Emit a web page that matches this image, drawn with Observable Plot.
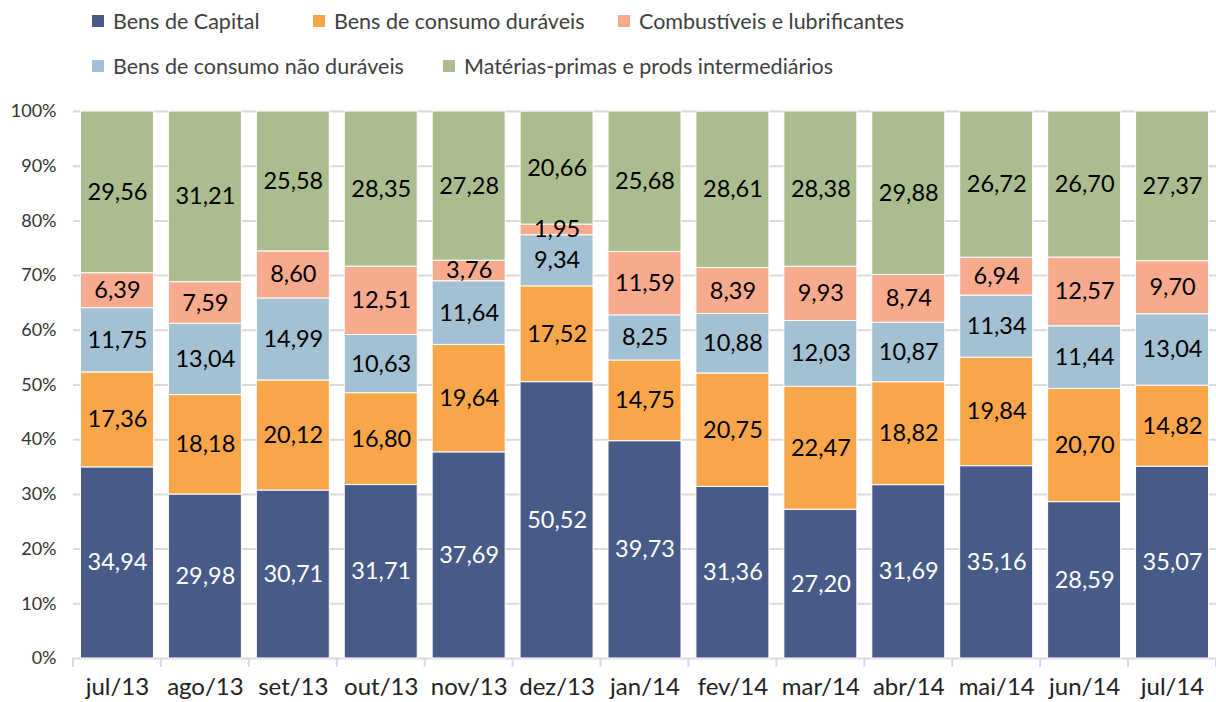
<!DOCTYPE html>
<html>
<head>
<meta charset="utf-8">
<script src="https://cdn.jsdelivr.net/npm/d3@7"></script>
<script src="https://cdn.jsdelivr.net/npm/@observablehq/plot@0.6"></script>
<style>
  body { margin: 0; background: #fff; font-family: Lato, "Open Sans", sans-serif; }
  #wrap { position: relative; width: 1216px; height: 702px; }
  #legend { position: relative; height: 92px; }
  .item { position: absolute; display: flex; align-items: center; font-size: 21.5px; color: #404040; white-space: nowrap; }
  .sw { width: 12px; height: 12px; margin-right: 9px; }
</style>
</head>
<body>
<div id="wrap">
  <div id="legend"></div>
  <div id="chart"></div>
</div>
<script>
const months = ["jul/13","ago/13","set/13","out/13","nov/13","dez/13","jan/14","fev/14","mar/14","abr/14","mai/14","jun/14","jul/14"];
const seriesNames = ["Bens de Capital","Bens de consumo duráveis","Bens de consumo não duráveis","Combustíveis e lubrificantes","Matérias-primas e prods intermediários"];
const seriesColors = ["#485a87","#f9a64a","#a3c1d3","#f8aa8e","#abbd8f"];
const capital  = [34.94,29.98,30.71,31.71,37.69,50.52,39.73,31.36,27.20,31.69,35.16,28.59,35.07];
const duraveis = [17.36,18.18,20.12,16.80,19.64,17.52,14.75,20.75,22.47,18.82,19.84,20.70,14.82];
const naoDuraveis = [11.75,13.04,14.99,10.63,11.64,9.34,8.25,10.88,12.03,10.87,11.34,11.44,13.04];
const combustiveis = [6.39,7.59,8.60,12.51,3.76,1.95,11.59,8.39,9.93,8.74,6.94,12.57,9.70];
const materias = [29.56,31.21,25.58,28.35,27.28,20.66,25.68,28.61,28.38,29.88,26.72,26.70,27.37];
const yTicks = [0,10,20,30,40,50,60,70,80,90,100];

const seriesValues = [capital, duraveis, naoDuraveis, combustiveis, materias];
const data = [];
seriesNames.forEach((s, i) => months.forEach((m, j) => data.push({month: m, series: s, value: seriesValues[i][j]})));

// legend
const legendPos = [[92,22],[313,22],[618,22],[92,67],[443,67]];
const legendOrder = [0,1,3,2,4];
const legend = document.getElementById("legend");
legendOrder.forEach((si, k) => {
  const it = document.createElement("div");
  it.className = "item";
  it.style.left = legendPos[k][0] + "px";
  it.style.top = (legendPos[k][1] - 14) + "px";
  it.innerHTML = `<span class="sw" style="background:${seriesColors[si]}"></span><span>${seriesNames[si]}</span>`;
  legend.appendChild(it);
});

const fmt = v => v.toFixed(2).replace(".", ",");
const padInner = 0.17, padOuter = 0.085;

const chart = Plot.plot({
  width: 1216,
  height: 610,
  marginTop: 19,
  marginBottom: 44,
  marginLeft: 73,
  marginRight: 0,
  style: {fontFamily: "Lato, 'Open Sans', sans-serif", background: "#fff"},
  x: {domain: months, paddingInner: padInner, paddingOuter: padOuter, round: false, label: null},
  y: {domain: [0, 100], label: null},
  color: {domain: seriesNames, range: seriesColors},
  marks: [
    Plot.ruleY(yTicks, {stroke: "#d9d9d9", strokeWidth: 2}),
    Plot.axisY({ticks: yTicks, tickFormat: d => d + "%", tickSize: 0, tickPadding: 17, fontSize: 18, color: "#333", label: null}),
    Plot.axisX({tickSize: 0, tickPadding: 19, fontSize: 24, color: "#222", label: null}),
    // category boundary ticks on the x axis
    (index, scales) => {
      const g = d3.create("svg:g");
      const x = scales.x;
      const n = months.length;
      const step = (x(months[n - 1]) - x(months[0])) / (n - 1);
      const first = x(months[0]) - step * padInner / 2;
      const y0 = scales.y(0);
      for (let i = 0; i <= n; i++) {
        const xp = first + i * step;
        g.append("line").attr("x1", xp).attr("x2", xp).attr("y1", y0).attr("y2", y0 + 9)
          .attr("stroke", "#d9d9d9").attr("stroke-width", 2);
      }
      return g.node();
    },
    Plot.barY(data, Plot.stackY({x: "month", y: "value", fill: "series", order: seriesNames, stroke: "#fff", strokeWidth: 1})),
    Plot.text(data, Plot.stackY({x: "month", y: "value", z: "series", order: seriesNames, text: d => fmt(d.value),
      fill: d => d.series === seriesNames[0] ? "#fff" : "#000", fontSize: 23.5}))
  ]
});
document.getElementById("chart").appendChild(chart);
</script>
</body>
</html>
